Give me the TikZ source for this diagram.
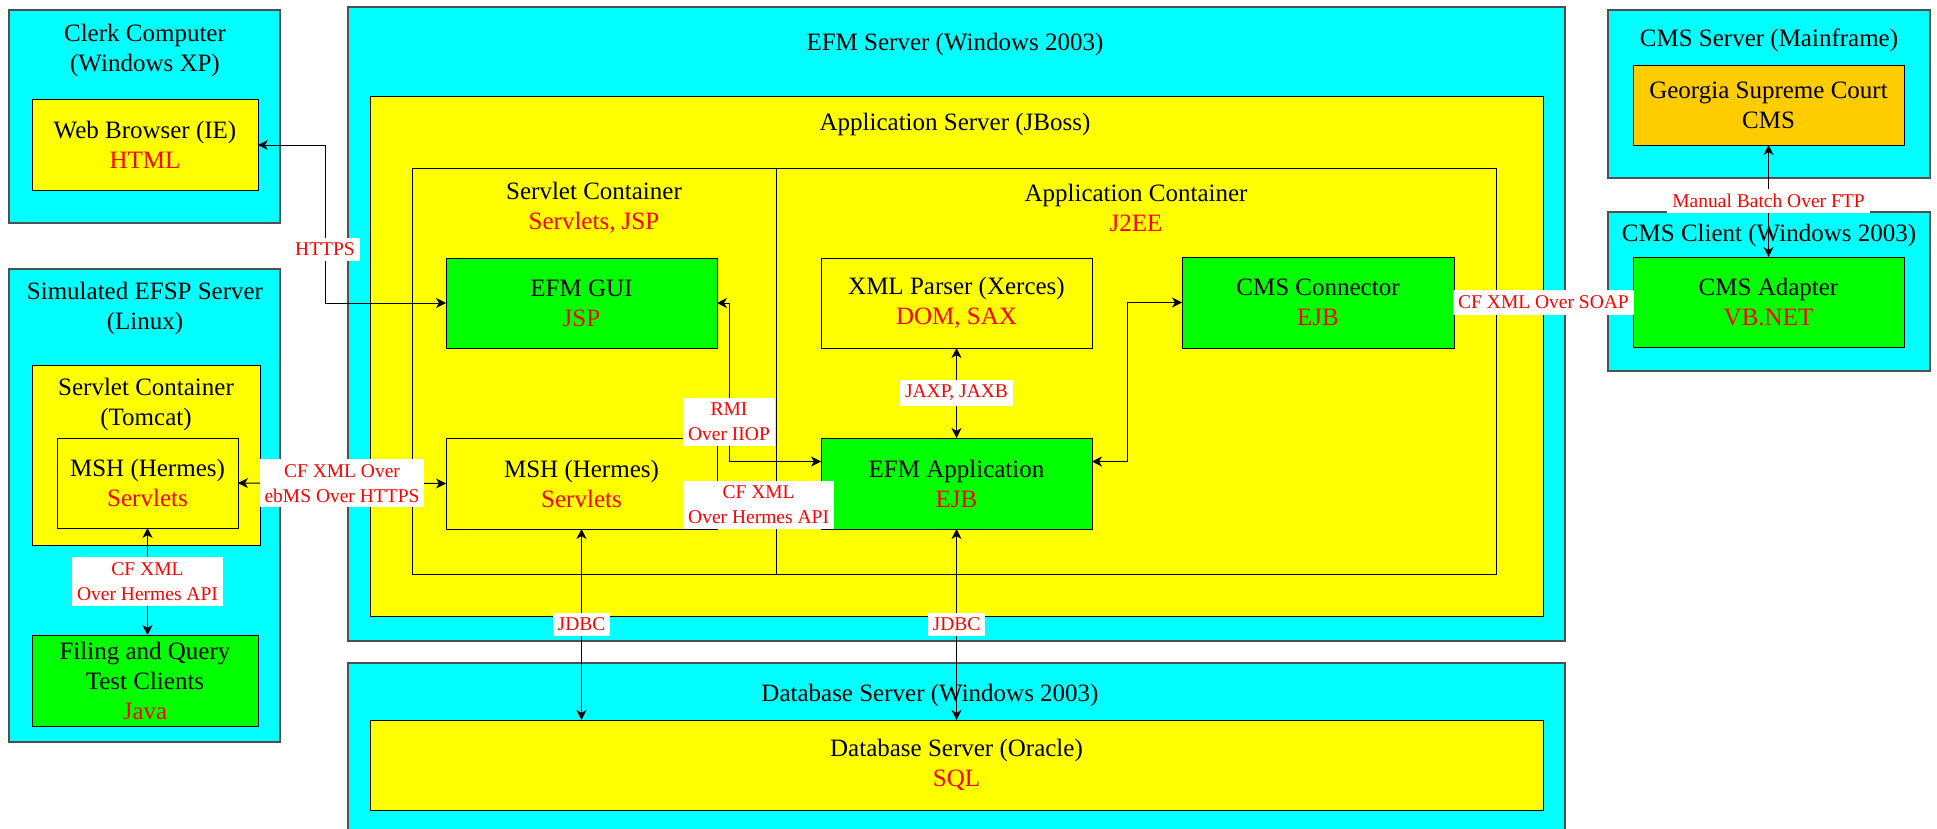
\documentclass[tikz,border=0pt]{standalone}
\usepackage{fontspec}
\setmainfont{Liberation Serif}
\usetikzlibrary{arrows.meta,calc}
\definecolor{boxcyan}{HTML}{00FFFF}
\definecolor{boxyellow}{HTML}{FFFF00}
\definecolor{boxgreen}{HTML}{00FF00}
\definecolor{boxorange}{HTML}{FFCC00}
\definecolor{edgegray}{HTML}{505050}
\newcommand\mytitlefont{\fontsize{12.5}{15}\selectfont}
\newcommand\mylabelfont{\fontsize{9.75}{12.5}\selectfont}
\newcommand\redtxt[1]{\textcolor{red}{#1}}
\begin{document}
\begin{tikzpicture}[x=0.5pt,y=-0.5pt,
  sz/.style 2 args={minimum width=#1*0.5pt, minimum height=#2*0.5pt},
  box/.style={draw=black, line width=0.5pt, inner sep=0pt, outer sep=0pt, align=center, font=\mytitlefont},
  hostbox/.style={box, fill=boxcyan, draw=edgegray, line width=0.75pt},
  ybox/.style={box, fill=boxyellow},
  gbox/.style={box, fill=boxgreen},
  obox/.style={box, fill=boxorange},
  frame/.style={box, draw=black},
  ttl/.style={align=center, font=\mytitlefont, inner sep=0pt},
  conn/.style={draw=black, line width=0.5pt, {Stealth[length=5pt,width=5pt,inset=1.5pt]}-{Stealth[length=5pt,width=5pt,inset=1.5pt]}},
  lbl/.style={fill=white, text=red, font=\mylabelfont, inner sep=2.5pt, align=center}]
\useasboundingbox (0,0) rectangle (1937,829);
\clip (0,0) rectangle (1937,829);

% Clerk computer
\node[hostbox, sz={271}{213}] (clerk) at (144.5,116.5) {};
\node[ttl] (clerkT) at (145,50) {Clerk Computer\\(Windows XP)};
\node[ybox, sz={226}{90}] (web) at (145,145) {Web Browser (IE)\\\redtxt{HTML}};

% Simulated EFSP server
\node[hostbox, sz={271}{473}] (efsp) at (144.5,505.5) {};
\node[ttl] (efspT) at (145,308) {Simulated EFSP Server\\(Linux)};
\node[ybox, sz={228}{180}] (tomcat) at (146,455) {};
\node[ttl] (tomcatT) at (146,404) {Servlet Container\\(Tomcat)};
\node[ybox, sz={181}{90}] (mshL) at (147.5,483) {MSH (Hermes)\\\redtxt{Servlets}};
\node[gbox, sz={226}{91}] (filing) at (145,680.5) {Filing and Query\\Test Clients\\\redtxt{Java}};

% EFM server
\node[hostbox, sz={1217}{634}] (efm) at (956.5,324) {};
\node[ttl] (efmT) at (955,44) {EFM Server (Windows 2003)};
\node[ybox, sz={1173}{519}] (jboss) at (956.5,356.5) {};
\node[ttl] (jbossT) at (955,124) {Application Server (JBoss)};
\node[frame, sz={364}{406}] (servc) at (594,371) {};
\node[ttl] (servcT) at (594,208) {Servlet Container\\\redtxt{Servlets, JSP}};
\node[frame, sz={720}{406}] (appc) at (1136,371) {};
\node[ttl] (appcT) at (1136,208) {Application Container\\\redtxt{J2EE}};
\node[gbox, sz={271}{90}] (gui) at (581.5,303) {EFM GUI\\\redtxt{JSP}};
\node[ybox, sz={271}{91}] (msh) at (581.5,483.5) {MSH (Hermes)\\\redtxt{Servlets}};
\node[ybox, sz={271}{90}] (xml) at (956.5,303) {XML Parser (Xerces)\\\redtxt{DOM, SAX}};
\node[gbox, sz={271}{91}] (app) at (956.5,483.5) {EFM Application\\\redtxt{EJB}};
\node[gbox, sz={272}{91}] (cmsconn) at (1318,302.5) {CMS Connector\\\redtxt{EJB}};

% Database server
\node[hostbox, sz={1217}{300}] (dbhost) at (956.5,813) {};
\node[ttl] (dbhostT) at (930,695) {Database Server (Windows 2003)};
\node[ybox, sz={1173}{90}] (oracle) at (956.5,765) {Database Server (Oracle)\\\redtxt{SQL}};

% CMS server and client
\node[hostbox, sz={322}{168}] (cmss) at (1769,94) {};
\node[ttl] (cmssT) at (1769,40) {CMS Server (Mainframe)};
\node[obox, sz={271}{79}] (georgia) at (1768.5,105.5) {Georgia Supreme Court\\CMS};
\node[hostbox, sz={322}{159}] (cmsc) at (1769,291.5) {};
\node[ttl] (cmscT) at (1769,235) {CMS Client (Windows 2003)};
\node[gbox, sz={271}{90}] (adapter) at (1768.5,302) {CMS Adapter\\\redtxt{VB.NET}};

% Connectors
\draw[conn] (web.east) -- ++(67,0) |- node[lbl, pos=0.33] {HTTPS} (gui.west);
\draw[conn] (mshL.east) -- node[lbl] {CF XML Over\\ebMS Over HTTPS} (msh.west);
\draw[conn] (mshL.south) -- node[lbl] {CF XML\\Over Hermes API} (mshL.south |- filing.north);
\draw[conn] (gui.east) -- ++(12,0) |- node[lbl, pos=0.375] {RMI\\Over IIOP} ($(app.west)+(0,-22)$);
\draw[conn] ($(msh.east)+(0,21.5)$) -- node[lbl, pos=0.4] {CF XML\\Over Hermes API} ($(app.west)+(0,21.5)$);
\draw[conn] (xml.south) -- node[lbl] {JAXP, JAXB} (app.north);
\draw[conn] ($(app.east)+(0,-22)$) -- ++(35,0) |- (cmsconn.west);
\draw[conn] (msh.south) -- node[lbl] {JDBC} (msh.south |- oracle.north);
\draw[conn] (app.south) -- node[lbl] {JDBC} (app.south |- oracle.north);
\draw[conn] (cmsconn.east) -- node[lbl, inner xsep=2.5pt, inner ysep=3pt] {CF XML Over SOAP} (adapter.west);
\draw[conn] (georgia.south) -- node[lbl] {Manual Batch Over FTP} (adapter.north);
\end{tikzpicture}
\end{document}
